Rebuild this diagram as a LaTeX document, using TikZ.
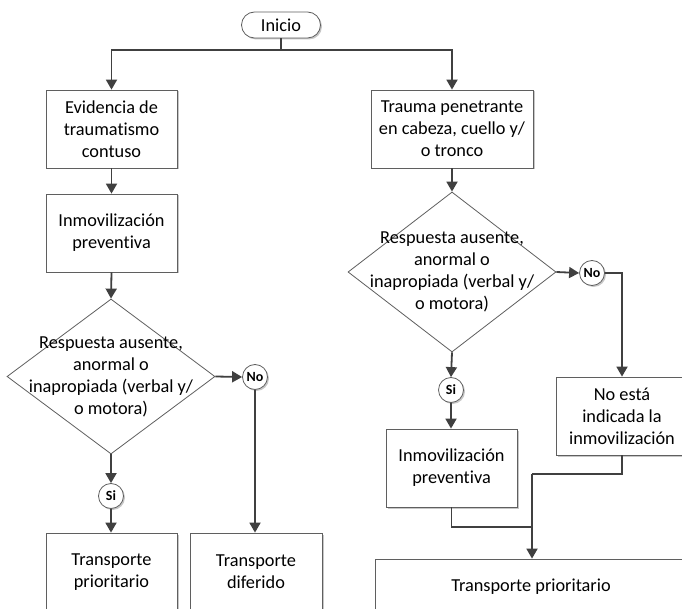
\documentclass[tikz,border=0pt]{standalone}
\usepackage{fontspec}
\setmainfont{Carlito}[Ligatures={NoCommon}]
\usetikzlibrary{shapes.geometric,arrows.meta,shadows}
\definecolor{conncol}{HTML}{404040}
\definecolor{boxcol}{HTML}{5F5F5F}
\begin{document}
\begin{tikzpicture}[x=1pt,y=-1pt,
  every node/.style={font=\fontsize{18.3}{22}\selectfont, align=center},
  boxshadow/.style={drop shadow={shadow xshift=1.5pt, shadow yshift=-1.5pt, opacity=0.22, fill=black}},
  procbox/.style={draw=boxcol, line width=0.8pt, fill=white, rectangle, inner sep=0pt, boxshadow},
  startbox/.style={draw=boxcol, line width=0.8pt, fill=white, rectangle, rounded corners=13pt,
     minimum width=79pt, minimum height=26pt, inner sep=0pt, boxshadow},
  decbox/.style={draw=boxcol, line width=0.8pt, fill=white, diamond, inner sep=0pt,
     minimum width=208pt, minimum height=155pt},
  yesno/.style={draw=boxcol, line width=0.8pt, fill=white, circle, minimum size=25pt, inner sep=0pt,
     font=\fontsize{14}{16}\selectfont\bfseries, boxshadow},
  conn/.style={draw=conncol, line width=1.8pt},
  arr/.style={conn, -{Triangle[length=10pt,width=11pt]}}
]
\useasboundingbox (0,0) rectangle (682,609);
\fill[white] (0,0) rectangle (682,609);
\clip (0,0) rectangle (682,609);

% nodes
\node[startbox] (inicio) at (281,25) {Inicio};
\node[procbox, minimum width=131pt, minimum height=78pt] (b1) at (111.5,129) {Evidencia de\\traumatismo\\contuso};
\node[procbox, minimum width=162pt, minimum height=78pt] (r1) at (452,129) {Trauma penetrante\\en cabeza, cuello y/\\o tronco};
\node[procbox, minimum width=131pt, minimum height=78pt] (b2) at (111.5,233) {Inmovilización\\preventiva};

\node[decbox] (d1) at (111,376.5) {};
\node (d1t) at (d1.center) {Respuesta ausente,\\anormal o\\inapropiada (verbal y/\\o motora)};
\node[decbox, minimum height=160pt] (d2) at (452,272) {};
\node (d2t) at (d2.center) {Respuesta ausente,\\anormal o\\inapropiada (verbal y/\\o motora)};

\node[yesno] (no1) at (255,377) {No};
\node[yesno] (si1) at (111,496) {Si};
\node[yesno] (no2) at (592,273) {No};
\node[yesno] (si2) at (451,390) {Si};

\node[procbox, minimum width=131pt, minimum height=78pt] (b3) at (111.5,572) {Transporte\\prioritario};
\node[procbox, minimum width=132pt, minimum height=78pt] (b4) at (256,572) {Transporte\\diferido};
\node[procbox, minimum width=131pt, minimum height=78pt] (r2) at (451.5,468) {Inmovilización\\preventiva};
\node[procbox, minimum width=132pt, minimum height=78pt] (r3) at (622,416) {No está\\indicada la\\inmovilización};
\node[procbox, minimum width=312pt, minimum height=56pt] (r4) at (531,587) {Transporte prioritario};

% connectors
\coordinate (split) at (281,50);
\coordinate (m1) at (532,474);
\coordinate (m2) at (532,527);
\coordinate (nocorner) at (622,273);

\draw[conn] (inicio.south) -- (split);
\draw[arr] (split) -| (b1.north);
\draw[arr] (split) -| (r1.north);
\draw[arr] (b1.south) -- (b2.north);
\draw[arr] (b2.south) -- (d1.north);
\draw[arr] (r1.south) -- (d2.north);

\draw[arr] (d1.east) -- (no1.west);
\draw[arr] (no1.south) -- (no1.south |- b4.north);
\draw[arr] (d1.south) -- (si1.north);
\draw[arr] (si1.south) -- (si1.south |- b3.north);

\draw[arr] (d2.east) -- (no2.west);
\draw[arr] (no2.east) -- (nocorner) -- (r3.north);
\draw[arr] (d2.south) -- (si2.north);
\draw[arr] (si2.south) -- (si2.south |- r2.north);

\draw[conn] (r3.south) |- (m1);
\draw[conn] (r2.south) |- (m2);
\draw[arr] (m1) -- (m1 |- r4.north);
\end{tikzpicture}
\end{document}
